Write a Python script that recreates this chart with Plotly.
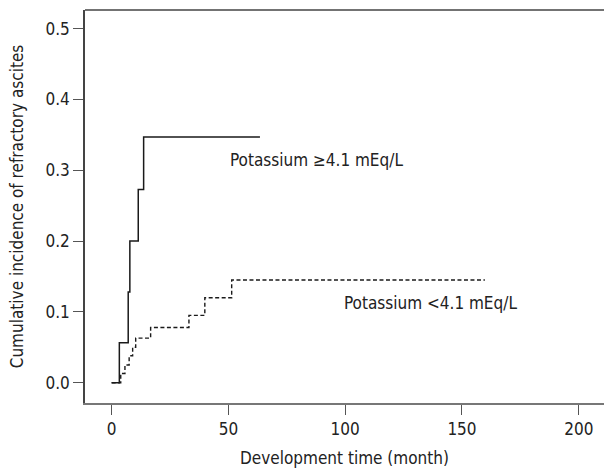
import plotly.graph_objects as go

# Solid curve: Potassium >= 4.1 mEq/L (step function, post-step values)
high_t = [0, 3.3, 7.1, 7.8, 11.4, 13.7, 63.5]
high_v = [0.0, 0.0565, 0.128, 0.2, 0.273, 0.347, 0.347]

# Dashed curve: Potassium < 4.1 mEq/L
low_t = [0, 3.9, 5.7, 7.5, 9.0, 10.3, 16.7, 33.1, 39.9, 51.4, 159.8]
low_v = [0.0, 0.013, 0.025, 0.038, 0.05, 0.063, 0.078, 0.095, 0.12, 0.145, 0.145]

x_ticks = [0, 50, 100, 150, 200]
y_ticks = [0.0, 0.1, 0.2, 0.3, 0.4, 0.5]
y_tick_labels = ["0.0", "0.1", "0.2", "0.3", "0.4", "0.5"]

label_high = "Potassium ≥4.1 mEq/L"
label_low = "Potassium <4.1 mEq/L"

FONT = "DejaVu Sans Condensed, Liberation Sans Narrow, Arial Narrow, sans-serif"
TXT = "#222"

fig = go.Figure()
fig.add_trace(go.Scatter(x=high_t, y=high_v, mode="lines", line_shape="hv",
                         line=dict(color="#1a1a1a", width=1.5), showlegend=False))
fig.add_trace(go.Scatter(x=low_t, y=low_v, mode="lines", line_shape="hv",
                         line=dict(color="#1a1a1a", width=1.4, dash="4px,2.5px"),
                         showlegend=False))

fig.add_annotation(x=50.0, y=0.3146, text=label_high, showarrow=False,
                   xanchor="left", yanchor="middle",
                   font=dict(family=FONT, size=17, color=TXT))
fig.add_annotation(x=98.6, y=0.113, text=label_low, showarrow=False,
                   xanchor="left", yanchor="middle",
                   font=dict(family=FONT, size=17, color=TXT))

# top border line
fig.add_shape(type="line", xref="paper", yref="paper", x0=0, x1=1, y0=1, y1=1,
              line=dict(color="#444", width=1.5))

fig.update_xaxes(range=[-11.4, 210.8], tickvals=x_ticks, ticks="outside", ticklen=10,
                 tickcolor="#555", tickwidth=1, showline=True, linecolor="#777",
                 linewidth=1.5, showgrid=False, zeroline=False,
                 tickfont=dict(family=FONT, size=17, color=TXT),
                 title=dict(text="Development time (month)", standoff=15,
                            font=dict(family=FONT, size=17, color=TXT)))
fig.update_yaxes(range=[-0.0287, 0.5264], tickvals=y_ticks, ticktext=y_tick_labels,
                 ticks="outside", ticklen=10, tickcolor="#555", tickwidth=1,
                 showline=True, linecolor="#444", linewidth=1.5, showgrid=False,
                 zeroline=False,
                 tickfont=dict(family=FONT, size=17, color=TXT),
                 title=dict(text="Cumulative incidence of refractory ascites", standoff=18,
                            font=dict(family=FONT, size=17, color=TXT)))

fig.update_layout(width=604, height=468, margin=dict(l=85, r=0, t=10, b=65),
                  plot_bgcolor="white", paper_bgcolor="white")

fig.write_html("out.html", config={"displayModeBar": False},
               post_script="document.body.style.margin='0';document.body.style.overflow='hidden';")
